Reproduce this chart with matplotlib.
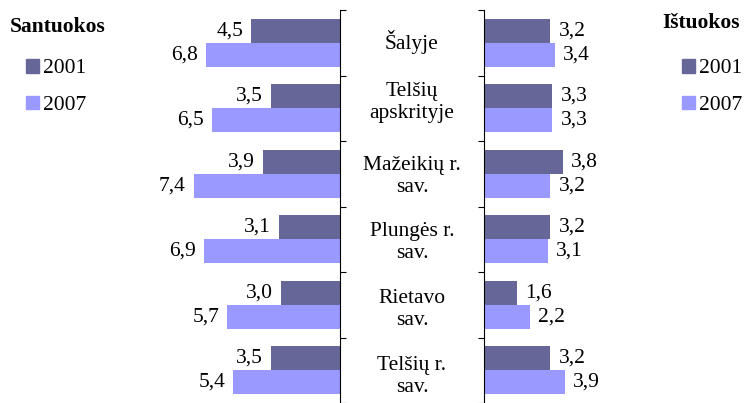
import matplotlib.pyplot as plt
from matplotlib.patches import Patch
from matplotlib.transforms import blended_transform_factory, offset_copy
import numpy as np

plt.rcParams['font.family'] = ['Liberation Serif', 'DejaVu Serif']

# data
categories = ['Šalyje', 'Telšių\napskrityje', 'Mažeikių r.\nsav.',
              'Plungės r.\nsav.', 'Rietavo\nsav.', 'Telšių r.\nsav.']
marriages_2001 = [4.5, 3.5, 3.9, 3.1, 3.0, 3.5]
marriages_2007 = [6.8, 6.5, 7.4, 6.9, 5.7, 5.4]
divorces_2001 = [3.2, 3.3, 3.8, 3.2, 1.6, 3.2]
divorces_2007 = [3.4, 3.3, 3.2, 3.1, 2.2, 3.9]
years = ['2001', '2007']

dark = '#666699'
light = '#9999FF'
W, H = 744, 403
fs = 15.5

fig = plt.figure(figsize=(W / 100, H / 100), dpi=100)

# axes placed in pixel units
ax_l = fig.add_axes([182 / W, 0, 158 / W, 393 / H])
ax_r = fig.add_axes([484 / W, 0, 166 / W, 393 / H])

n = len(categories)
y = np.arange(n) + 0.5
h = 0.366

def draw(ax, v1, v2, side):
    b1 = ax.barh(y - h / 2, v1, height=h, color=dark)
    b2 = ax.barh(y + h / 2, v2, height=h, color=light)
    for bars, vals in ((b1, v1), (b2, v2)):
        for bar, v in zip(bars, vals):
            ax.annotate(f'{v:.1f}'.replace('.', ','),
                        (v, bar.get_y() + bar.get_height() / 2),
                        xytext=(8 * side, 0), textcoords='offset pixels',
                        ha='left' if side > 0 else 'right', va='center',
                        fontsize=fs)
    ax.set_ylim(n, 0)
    ax.set_yticks(np.arange(n + 1))
    ax.set_yticklabels([])
    ax.set_xticks([])
    for s in ax.spines.values():
        s.set_visible(False)
    ax.tick_params(axis='y', length=4.5, width=0.8, color='black')
    return b1, b2

draw(ax_l, marriages_2001, marriages_2007, -1)
ax_l.set_xlim(8, 0)
ax_l.spines['right'].set_visible(True)
ax_l.yaxis.tick_right()

draw(ax_r, divorces_2001, divorces_2007, 1)
ax_r.set_xlim(0, 8)
ax_r.spines['left'].set_visible(True)

# category labels between the two axes (small vertical nudges, in pixels)
nudge = [1, 6, -3, -3, -5, -6]
tr = blended_transform_factory(fig.transFigure, ax_l.transData)
for yi, c, dy in zip(y, categories, nudge):
    t = offset_copy(tr, fig=fig, y=dy, units='dots')
    ax_l.text(412 / W, yi, c, transform=t, ha='center', va='center',
              fontsize=fs, linespacing=1.2)

# legends
handles = [Patch(color=dark), Patch(color=light)]
fig.text(10 / W, 1 - 27 / H, 'Santuokos', fontsize=fs, fontweight='bold',
         ha='left', va='center')
fig.text(662 / W, 1 - 23 / H, 'Ištuokos', fontsize=fs, fontweight='bold',
         ha='left', va='center')
for xl in (26, 682):
    fig.legend(handles, years, loc='upper left',
               bbox_to_anchor=(xl / W, 1 - 59 / H), frameon=False,
               fontsize=fs, borderpad=0, borderaxespad=0,
               handlelength=0.6, handleheight=0.6, handletextpad=0.2,
               labelspacing=0.8)

fig.savefig('out.png', dpi=100)
